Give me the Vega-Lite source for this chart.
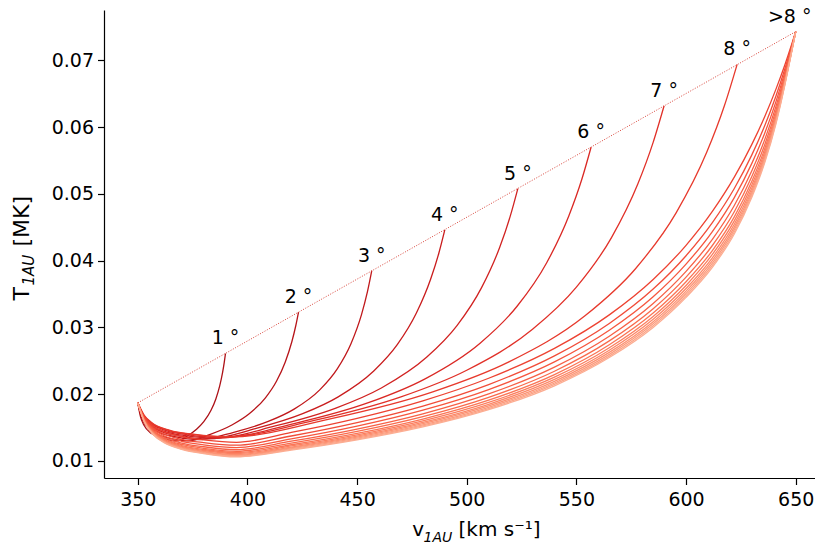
{
  "$schema": "https://vega.github.io/schema/vega-lite/v6.json",
  "width": 711,
  "height": 468,
  "autosize": {"type": "none"},
  "padding": {"left": 104, "right": 0, "top": 10, "bottom": 65},
  "background": "white",
  "config": {
    "view": {"stroke": null},
    "axis": {
      "grid": false,
      "domainColor": "#000000", "domainWidth": 1.2,
      "tickColor": "#000000", "tickWidth": 1.2, "tickSize": 6.5,
      "labelColor": "#000000", "labelFont": "DejaVu Sans", "labelFontSize": 19,
      "titleColor": "#000000", "titleFont": "DejaVu Sans", "titleFontWeight": "normal", "titleFontSize": 20
    }
  },
  "datasets": {
    "curves": [
      {"id":1,"v":350,"T":0.0187},{"id":1,"v":351.26,"T":0.01661},{"id":1,"v":352.7,"T":0.01542},{"id":1,"v":356.3,"T":0.01411},{"id":1,"v":360.8,"T":0.01346},{"id":1,"v":368,"T":0.013},{"id":1,"v":372.4,"T":0.01371},{"id":1,"v":376.8,"T":0.01475},{"id":1,"v":380.1,"T":0.01588},{"id":1,"v":383.4,"T":0.01759},{"id":1,"v":385.6,"T":0.01929},{"id":1,"v":387.36,"T":0.02124},{"id":1,"v":388.68,"T":0.02326},{"id":1,"v":389.45,"T":0.02479},{"id":1,"v":390,"T":0.0261},
      {"id":2,"v":350,"T":0.0187},{"id":2,"v":351.61,"T":0.01661},{"id":2,"v":353.45,"T":0.01542},{"id":2,"v":358.05,"T":0.01411},{"id":2,"v":363.8,"T":0.01346},{"id":2,"v":373,"T":0.013},{"id":2,"v":383.06,"T":0.01399},{"id":2,"v":393.12,"T":0.01543},{"id":2,"v":400.67,"T":0.01703},{"id":2,"v":408.21,"T":0.01946},{"id":2,"v":413.24,"T":0.02194},{"id":2,"v":417.26,"T":0.02483},{"id":2,"v":420.28,"T":0.02789},{"id":2,"v":422.04,"T":0.03025},{"id":2,"v":423.3,"T":0.0323},
      {"id":3,"v":350,"T":0.0187},{"id":3,"v":351.96,"T":0.01669},{"id":3,"v":354.2,"T":0.01554},{"id":3,"v":359.8,"T":0.01427},{"id":3,"v":366.8,"T":0.01364},{"id":3,"v":378,"T":0.0132},{"id":3,"v":393.74,"T":0.01429},{"id":3,"v":409.48,"T":0.01592},{"id":3,"v":421.29,"T":0.01777},{"id":3,"v":433.09,"T":0.02069},{"id":3,"v":440.96,"T":0.0238},{"id":3,"v":447.26,"T":0.02761},{"id":3,"v":451.98,"T":0.03189},{"id":3,"v":454.73,"T":0.03535},{"id":3,"v":456.7,"T":0.0385},
      {"id":4,"v":350,"T":0.0187},{"id":4,"v":352.24,"T":0.01672},{"id":4,"v":354.8,"T":0.0156},{"id":4,"v":361.2,"T":0.01435},{"id":4,"v":369.2,"T":0.01373},{"id":4,"v":382,"T":0.0133},{"id":4,"v":403.6,"T":0.01484},{"id":4,"v":425.2,"T":0.01708},{"id":4,"v":441.4,"T":0.0196},{"id":4,"v":457.6,"T":0.02347},{"id":4,"v":468.4,"T":0.02745},{"id":4,"v":477.04,"T":0.03215},{"id":4,"v":483.52,"T":0.03721},{"id":4,"v":487.3,"T":0.04114},{"id":4,"v":490,"T":0.0446},
      {"id":5,"v":350,"T":0.0187},{"id":5,"v":352.45,"T":0.01676},{"id":5,"v":355.25,"T":0.01565},{"id":5,"v":362.25,"T":0.01443},{"id":5,"v":371,"T":0.01382},{"id":5,"v":385,"T":0.0134},{"id":5,"v":412.66,"T":0.01524},{"id":5,"v":440.32,"T":0.01792},{"id":5,"v":461.07,"T":0.02093},{"id":5,"v":481.81,"T":0.02556},{"id":5,"v":495.64,"T":0.03031},{"id":5,"v":506.7,"T":0.03592},{"id":5,"v":515,"T":0.04197},{"id":5,"v":519.84,"T":0.04667},{"id":5,"v":523.3,"T":0.0508},
      {"id":6,"v":350,"T":0.0187},{"id":6,"v":352.66,"T":0.0168},{"id":6,"v":355.7,"T":0.01571},{"id":6,"v":363.3,"T":0.01451},{"id":6,"v":372.8,"T":0.01392},{"id":6,"v":388,"T":0.0135},{"id":6,"v":421.74,"T":0.01563},{"id":6,"v":455.48,"T":0.01876},{"id":6,"v":480.79,"T":0.02226},{"id":6,"v":506.09,"T":0.02764},{"id":6,"v":522.96,"T":0.03317},{"id":6,"v":536.46,"T":0.03969},{"id":6,"v":546.58,"T":0.04673},{"id":6,"v":552.48,"T":0.05219},{"id":6,"v":556.7,"T":0.057},
      {"id":7,"v":350,"T":0.0187},{"id":7,"v":352.8,"T":0.01683},{"id":7,"v":356,"T":0.01577},{"id":7,"v":364,"T":0.01459},{"id":7,"v":374,"T":0.01401},{"id":7,"v":390,"T":0.0136},{"id":7,"v":430,"T":0.01603},{"id":7,"v":470,"T":0.0196},{"id":7,"v":500,"T":0.02359},{"id":7,"v":530,"T":0.02972},{"id":7,"v":550,"T":0.03603},{"id":7,"v":566,"T":0.04346},{"id":7,"v":578,"T":0.05148},{"id":7,"v":585,"T":0.05772},{"id":7,"v":590,"T":0.0632},
      {"id":8,"v":350,"T":0.0187},{"id":8,"v":352.94,"T":0.01683},{"id":8,"v":356.3,"T":0.01577},{"id":8,"v":364.7,"T":0.01459},{"id":8,"v":375.2,"T":0.01401},{"id":8,"v":392,"T":0.0136},{"id":8,"v":438.26,"T":0.01634},{"id":8,"v":484.52,"T":0.02035},{"id":8,"v":519.22,"T":0.02484},{"id":8,"v":553.91,"T":0.03174},{"id":8,"v":577.04,"T":0.03883},{"id":8,"v":595.54,"T":0.0472},{"id":8,"v":609.42,"T":0.05622},{"id":8,"v":617.52,"T":0.06323},{"id":8,"v":623.3,"T":0.0694},
      {"id":9,"v":350,"T":0.0187},{"id":9,"v":353,"T":0.01661},{"id":9,"v":357,"T":0.01525},{"id":9,"v":362,"T":0.01436},{"id":9,"v":370,"T":0.01363},{"id":9,"v":380,"T":0.01316},{"id":9,"v":395,"T":0.0128},{"id":9,"v":420,"T":0.01427},{"id":9,"v":450,"T":0.01638},{"id":9,"v":480,"T":0.01901},{"id":9,"v":510,"T":0.02239},{"id":9,"v":540,"T":0.02686},{"id":9,"v":565,"T":0.03188},{"id":9,"v":585,"T":0.03718},{"id":9,"v":600,"T":0.0423},{"id":9,"v":612,"T":0.04738},{"id":9,"v":622,"T":0.05251},{"id":9,"v":630,"T":0.05742},{"id":9,"v":636,"T":0.06167},{"id":9,"v":641,"T":0.06569},{"id":9,"v":645,"T":0.06927},{"id":9,"v":648,"T":0.07222},{"id":9,"v":650,"T":0.0743},
      {"id":10,"v":350,"T":0.0187},{"id":10,"v":353,"T":0.01645},{"id":10,"v":357,"T":0.01499},{"id":10,"v":362,"T":0.01404},{"id":10,"v":370,"T":0.01325},{"id":10,"v":380,"T":0.01275},{"id":10,"v":395,"T":0.01236},{"id":10,"v":420,"T":0.01374},{"id":10,"v":450,"T":0.01574},{"id":10,"v":480,"T":0.01823},{"id":10,"v":510,"T":0.02145},{"id":10,"v":540,"T":0.02574},{"id":10,"v":565,"T":0.0306},{"id":10,"v":585,"T":0.03574},{"id":10,"v":600,"T":0.04074},{"id":10,"v":612,"T":0.0457},{"id":10,"v":622,"T":0.05081},{"id":10,"v":630,"T":0.05584},{"id":10,"v":636,"T":0.0603},{"id":10,"v":641,"T":0.06465},{"id":10,"v":645,"T":0.06866},{"id":10,"v":648,"T":0.07198},{"id":10,"v":650,"T":0.0743},
      {"id":11,"v":350,"T":0.0187},{"id":11,"v":353,"T":0.01633},{"id":11,"v":357,"T":0.01479},{"id":11,"v":362,"T":0.01378},{"id":11,"v":370,"T":0.01295},{"id":11,"v":380,"T":0.01242},{"id":11,"v":395,"T":0.01201},{"id":11,"v":420,"T":0.01332},{"id":11,"v":450,"T":0.01522},{"id":11,"v":480,"T":0.01761},{"id":11,"v":510,"T":0.0207},{"id":11,"v":540,"T":0.02484},{"id":11,"v":565,"T":0.02958},{"id":11,"v":585,"T":0.0346},{"id":11,"v":600,"T":0.03949},{"id":11,"v":612,"T":0.04436},{"id":11,"v":622,"T":0.04945},{"id":11,"v":630,"T":0.05457},{"id":11,"v":636,"T":0.0592},{"id":11,"v":641,"T":0.06382},{"id":11,"v":645,"T":0.06817},{"id":11,"v":648,"T":0.07178},{"id":11,"v":650,"T":0.0743},
      {"id":12,"v":350,"T":0.0187},{"id":12,"v":353,"T":0.01622},{"id":12,"v":357,"T":0.01461},{"id":12,"v":362,"T":0.01355},{"id":12,"v":370,"T":0.01269},{"id":12,"v":380,"T":0.01213},{"id":12,"v":395,"T":0.0117},{"id":12,"v":420,"T":0.01296},{"id":12,"v":450,"T":0.01478},{"id":12,"v":480,"T":0.01706},{"id":12,"v":510,"T":0.02004},{"id":12,"v":540,"T":0.02406},{"id":12,"v":565,"T":0.02869},{"id":12,"v":585,"T":0.03359},{"id":12,"v":600,"T":0.0384},{"id":12,"v":612,"T":0.04319},{"id":12,"v":622,"T":0.04826},{"id":12,"v":630,"T":0.05346},{"id":12,"v":636,"T":0.05824},{"id":12,"v":641,"T":0.0631},{"id":12,"v":645,"T":0.06774},{"id":12,"v":648,"T":0.07161},{"id":12,"v":650,"T":0.0743},
      {"id":13,"v":350,"T":0.0187},{"id":13,"v":353,"T":0.01613},{"id":13,"v":357,"T":0.01446},{"id":13,"v":362,"T":0.01337},{"id":13,"v":370,"T":0.01248},{"id":13,"v":380,"T":0.0119},{"id":13,"v":395,"T":0.01146},{"id":13,"v":420,"T":0.01267},{"id":13,"v":450,"T":0.01442},{"id":13,"v":480,"T":0.01663},{"id":13,"v":510,"T":0.01952},{"id":13,"v":540,"T":0.02344},{"id":13,"v":565,"T":0.02798},{"id":13,"v":585,"T":0.0328},{"id":13,"v":600,"T":0.03754},{"id":13,"v":612,"T":0.04227},{"id":13,"v":622,"T":0.04732},{"id":13,"v":630,"T":0.05259},{"id":13,"v":636,"T":0.05748},{"id":13,"v":641,"T":0.06252},{"id":13,"v":645,"T":0.0674},{"id":13,"v":648,"T":0.07148},{"id":13,"v":650,"T":0.0743},
      {"id":14,"v":350,"T":0.0187},{"id":14,"v":353,"T":0.01606},{"id":14,"v":357,"T":0.01435},{"id":14,"v":362,"T":0.01323},{"id":14,"v":370,"T":0.01231},{"id":14,"v":380,"T":0.01172},{"id":14,"v":395,"T":0.01126},{"id":14,"v":420,"T":0.01243},{"id":14,"v":450,"T":0.01413},{"id":14,"v":480,"T":0.01628},{"id":14,"v":510,"T":0.0191},{"id":14,"v":540,"T":0.02294},{"id":14,"v":565,"T":0.02741},{"id":14,"v":585,"T":0.03215},{"id":14,"v":600,"T":0.03684},{"id":14,"v":612,"T":0.04151},{"id":14,"v":622,"T":0.04655},{"id":14,"v":630,"T":0.05188},{"id":14,"v":636,"T":0.05686},{"id":14,"v":641,"T":0.06206},{"id":14,"v":645,"T":0.06712},{"id":14,"v":648,"T":0.07137},{"id":14,"v":650,"T":0.0743},
      {"id":15,"v":350,"T":0.0187},{"id":15,"v":353,"T":0.01601},{"id":15,"v":357,"T":0.01426},{"id":15,"v":362,"T":0.01311},{"id":15,"v":370,"T":0.01218},{"id":15,"v":380,"T":0.01157},{"id":15,"v":395,"T":0.01111},{"id":15,"v":420,"T":0.01225},{"id":15,"v":450,"T":0.01391},{"id":15,"v":480,"T":0.01601},{"id":15,"v":510,"T":0.01877},{"id":15,"v":540,"T":0.02255},{"id":15,"v":565,"T":0.02696},{"id":15,"v":585,"T":0.03165},{"id":15,"v":600,"T":0.03629},{"id":15,"v":612,"T":0.04093},{"id":15,"v":622,"T":0.04596},{"id":15,"v":630,"T":0.05132},{"id":15,"v":636,"T":0.05638},{"id":15,"v":641,"T":0.06169},{"id":15,"v":645,"T":0.06691},{"id":15,"v":648,"T":0.07128},{"id":15,"v":650,"T":0.0743},
      {"id":16,"v":350,"T":0.0187},{"id":16,"v":353,"T":0.01596},{"id":16,"v":357,"T":0.01418},{"id":16,"v":362,"T":0.01302},{"id":16,"v":370,"T":0.01206},{"id":16,"v":380,"T":0.01145},{"id":16,"v":395,"T":0.01097},{"id":16,"v":420,"T":0.01209},{"id":16,"v":450,"T":0.01372},{"id":16,"v":480,"T":0.01577},{"id":16,"v":510,"T":0.01849},{"id":16,"v":540,"T":0.02221},{"id":16,"v":565,"T":0.02658},{"id":16,"v":585,"T":0.03122},{"id":16,"v":600,"T":0.03583},{"id":16,"v":612,"T":0.04043},{"id":16,"v":622,"T":0.04545},{"id":16,"v":630,"T":0.05085},{"id":16,"v":636,"T":0.05597},{"id":16,"v":641,"T":0.06138},{"id":16,"v":645,"T":0.06672},{"id":16,"v":648,"T":0.07121},{"id":16,"v":650,"T":0.0743},
      {"id":17,"v":350,"T":0.0187},{"id":17,"v":353,"T":0.01592},{"id":17,"v":357,"T":0.01412},{"id":17,"v":362,"T":0.01293},{"id":17,"v":370,"T":0.01197},{"id":17,"v":380,"T":0.01135},{"id":17,"v":395,"T":0.01086},{"id":17,"v":420,"T":0.01196},{"id":17,"v":450,"T":0.01356},{"id":17,"v":480,"T":0.01558},{"id":17,"v":510,"T":0.01825},{"id":17,"v":540,"T":0.02193},{"id":17,"v":565,"T":0.02626},{"id":17,"v":585,"T":0.03086},{"id":17,"v":600,"T":0.03544},{"id":17,"v":612,"T":0.04001},{"id":17,"v":622,"T":0.04502},{"id":17,"v":630,"T":0.05045},{"id":17,"v":636,"T":0.05562},{"id":17,"v":641,"T":0.06112},{"id":17,"v":645,"T":0.06657},{"id":17,"v":648,"T":0.07115},{"id":17,"v":650,"T":0.0743},
      {"id":18,"v":350,"T":0.0187},{"id":18,"v":353,"T":0.01589},{"id":18,"v":357,"T":0.01406},{"id":18,"v":362,"T":0.01286},{"id":18,"v":370,"T":0.01188},{"id":18,"v":380,"T":0.01125},{"id":18,"v":395,"T":0.01077},{"id":18,"v":420,"T":0.01184},{"id":18,"v":450,"T":0.01341},{"id":18,"v":480,"T":0.0154},{"id":18,"v":510,"T":0.01804},{"id":18,"v":540,"T":0.02168},{"id":18,"v":565,"T":0.02597},{"id":18,"v":585,"T":0.03054},{"id":18,"v":600,"T":0.03509},{"id":18,"v":612,"T":0.03963},{"id":18,"v":622,"T":0.04464},{"id":18,"v":630,"T":0.05009},{"id":18,"v":636,"T":0.05532},{"id":18,"v":641,"T":0.06089},{"id":18,"v":645,"T":0.06643},{"id":18,"v":648,"T":0.07109},{"id":18,"v":650,"T":0.0743},
      {"id":19,"v":350,"T":0.0187},{"id":19,"v":353,"T":0.01586},{"id":19,"v":357,"T":0.01401},{"id":19,"v":362,"T":0.0128},{"id":19,"v":370,"T":0.01181},{"id":19,"v":380,"T":0.01117},{"id":19,"v":395,"T":0.01068},{"id":19,"v":420,"T":0.01173},{"id":19,"v":450,"T":0.01328},{"id":19,"v":480,"T":0.01525},{"id":19,"v":510,"T":0.01785},{"id":19,"v":540,"T":0.02146},{"id":19,"v":565,"T":0.02571},{"id":19,"v":585,"T":0.03025},{"id":19,"v":600,"T":0.03477},{"id":19,"v":612,"T":0.03929},{"id":19,"v":622,"T":0.0443},{"id":19,"v":630,"T":0.04978},{"id":19,"v":636,"T":0.05504},{"id":19,"v":641,"T":0.06068},{"id":19,"v":645,"T":0.06631},{"id":19,"v":648,"T":0.07104},{"id":19,"v":650,"T":0.0743},
      {"id":20,"v":350,"T":0.0187},{"id":20,"v":353,"T":0.01583},{"id":20,"v":357,"T":0.01396},{"id":20,"v":362,"T":0.01274},{"id":20,"v":370,"T":0.01174},{"id":20,"v":380,"T":0.0111},{"id":20,"v":395,"T":0.0106},{"id":20,"v":420,"T":0.01164},{"id":20,"v":450,"T":0.01317},{"id":20,"v":480,"T":0.01511},{"id":20,"v":510,"T":0.01769},{"id":20,"v":540,"T":0.02126},{"id":20,"v":565,"T":0.02549},{"id":20,"v":585,"T":0.03},{"id":20,"v":600,"T":0.0345},{"id":20,"v":612,"T":0.039},{"id":20,"v":622,"T":0.044},{"id":20,"v":630,"T":0.0495},{"id":20,"v":636,"T":0.0548},{"id":20,"v":641,"T":0.0605},{"id":20,"v":645,"T":0.0662},{"id":20,"v":648,"T":0.071},{"id":20,"v":650,"T":0.0743}
    ],
    "chord": [
      {"v": 350, "T": 0.0187},
      {"v": 650, "T": 0.0743}
    ],
    "tags": [
      {"label": "1 °", "v": 390, "T": 0.0261},
      {"label": "2 °", "v": 423.3, "T": 0.0323},
      {"label": "3 °", "v": 456.7, "T": 0.0385},
      {"label": "4 °", "v": 490, "T": 0.0446},
      {"label": "5 °", "v": 523.3, "T": 0.0508},
      {"label": "6 °", "v": 556.7, "T": 0.057},
      {"label": "7 °", "v": 590, "T": 0.0632},
      {"label": "8 °", "v": 623.3, "T": 0.0694}
    ],
    "tagTop": [
      {"label": ">8 °", "v": 650, "T": 0.0743}
    ]
  },
  "layer": [
    {
      "data": {"name": "curves"},
      "mark": {"type": "line", "strokeWidth": 1.3, "interpolate": "monotone"},
      "encoding": {
        "x": {
          "field": "v", "type": "quantitative",
          "scale": {"domain": [334.6, 658.8], "nice": false, "zero": false},
          "axis": {
            "orient": "bottom", "values": [350, 400, 450, 500, 550, 600, 650], "labelPadding": 6,
            "title": "v", "titleX": 307.7, "titleY": 57, "titleAngle": 0, "titleAlign": "left", "titleBaseline": "alphabetic"
          }
        },
        "y": {
          "field": "T", "type": "quantitative",
          "scale": {"domain": [0.00745, 0.07754], "nice": false, "zero": false},
          "axis": {
            "orient": "left", "values": [0.01, 0.02, 0.03, 0.04, 0.05, 0.06, 0.07], "format": ".2f", "labelPadding": 4,
            "title": "T", "titleFontSize": 22, "titleX": -76, "titleY": 290, "titleAngle": 270, "titleAlign": "left", "titleBaseline": "alphabetic"
          }
        },
        "color": {
          "field": "id", "type": "quantitative",
          "scale": {"domain": [1, 20], "scheme": {"name": "reds", "extent": [0.92, 0.13]}},
          "legend": null
        },
        "detail": {"field": "id", "type": "nominal"}
      }
    },
    {
      "data": {"name": "chord"},
      "mark": {"type": "line", "color": "#d9443a", "strokeWidth": 1, "strokeDash": [1, 1.6]},
      "encoding": {
        "x": {
          "field": "v", "type": "quantitative",
          "axis": {
            "orient": "bottom", "domain": false, "ticks": false, "labels": false,
            "title": "1AU", "titleFontSize": 14, "titleFontStyle": "italic",
            "titleX": 319, "titleY": 63, "titleAngle": 0, "titleAlign": "left", "titleBaseline": "alphabetic"
          }
        },
        "y": {
          "field": "T", "type": "quantitative",
          "axis": {
            "orient": "left", "domain": false, "ticks": false, "labels": false,
            "title": "1AU", "titleFontSize": 15, "titleFontStyle": "italic",
            "titleX": -71, "titleY": 275, "titleAngle": 270, "titleAlign": "left", "titleBaseline": "alphabetic"
          }
        }
      }
    },
    {
      "data": {"name": "tags"},
      "mark": {"type": "text", "align": "center", "baseline": "alphabetic", "dy": -9, "font": "DejaVu Sans", "fontSize": 19, "color": "#000000"},
      "encoding": {
        "x": {
          "field": "v", "type": "quantitative",
          "axis": {
            "orient": "bottom", "domain": false, "ticks": false, "labels": false,
            "title": "[km s⁻¹]",
            "titleX": 354, "titleY": 57, "titleAngle": 0, "titleAlign": "left", "titleBaseline": "alphabetic"
          }
        },
        "y": {
          "field": "T", "type": "quantitative",
          "axis": {
            "orient": "left", "domain": false, "ticks": false, "labels": false,
            "title": "[MK]", "titleFontSize": 22,
            "titleX": -76, "titleY": 236, "titleAngle": 270, "titleAlign": "left", "titleBaseline": "alphabetic"
          }
        },
        "text": {"field": "label", "type": "nominal"}
      }
    },
    {
      "data": {"name": "tagTop"},
      "mark": {"type": "text", "align": "center", "baseline": "alphabetic", "dx": -6, "dy": -9, "font": "DejaVu Sans", "fontSize": 19, "color": "#000000"},
      "encoding": {
        "x": {"field": "v", "type": "quantitative", "axis": null},
        "y": {"field": "T", "type": "quantitative", "axis": null},
        "text": {"field": "label", "type": "nominal"}
      }
    }
  ],
  "resolve": {"axis": {"x": "independent", "y": "independent"}}
}
